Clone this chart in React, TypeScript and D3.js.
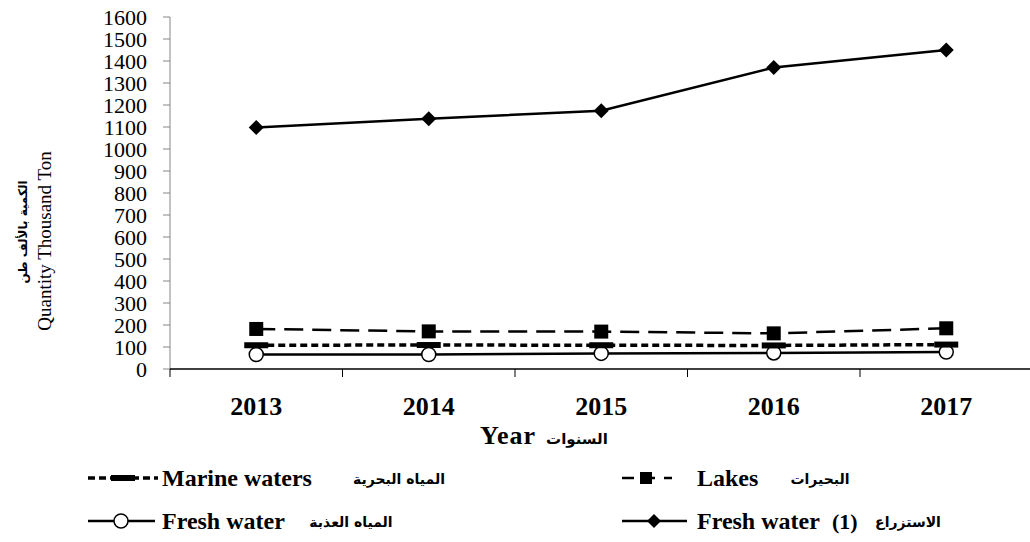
import { useEffect, useRef } from 'react';
import * as d3 from 'd3';

const years = ['2013', '2014', '2015', '2016', '2017'];
const aquaculture = [1098, 1137, 1174, 1370, 1450];
const lakes = [182, 171, 170, 162, 185];
const marine = [108, 109, 108, 107, 111];
const freshWater = [66, 66, 71, 73, 77];
const yTicks = [0, 100, 200, 300, 400, 500, 600, 700, 800, 900, 1000, 1100, 1200, 1300, 1400, 1500, 1600];

const SERIF = '"Liberation Serif", "Times New Roman", serif';
const ARABIC = '"DejaVu Sans", sans-serif';

const W = 1030;
const H = 542;

const App = () => {
  const svgRef = useRef<SVGSVGElement>(null);

  useEffect(() => {
    if (!svgRef.current) return;
    const svg = d3.select(svgRef.current);
    svg.selectAll('*').remove();

    const x = d3.scaleBand().domain(years).range([170, 1032.5]).padding(0);
    const y = d3.scaleLinear().domain([0, 1600]).range([369, 17]);
    const cx = (i: number) => (x(years[i]) || 0) + x.bandwidth() / 2;

    // y axis
    svg.append('line')
      .attr('x1', 170).attr('x2', 170)
      .attr('y1', y(1600)).attr('y2', y(0))
      .attr('stroke', '#868686').attr('stroke-width', 1);
    svg.selectAll('.ytick')
      .data(yTicks)
      .join('line')
      .attr('class', 'ytick')
      .attr('x1', 163).attr('x2', 170)
      .attr('y1', d => y(d)).attr('y2', d => y(d))
      .attr('stroke', '#868686').attr('stroke-width', 1);
    svg.selectAll('.ylabel')
      .data(yTicks)
      .join('text')
      .attr('class', 'ylabel')
      .attr('x', 147)
      .attr('y', d => y(d) + 7.5)
      .attr('text-anchor', 'end')
      .style('font-family', SERIF)
      .style('font-size', '22px')
      .style('fill', '#000')
      .text(d => d);

    // x axis
    svg.append('line')
      .attr('x1', 170).attr('x2', 1032.5)
      .attr('y1', y(0)).attr('y2', y(0))
      .attr('stroke', '#000').attr('stroke-width', 1.5);
    const tickXs = years.map(d => x(d) || 0).concat([x.range()[1]]);
    svg.selectAll('.xtick')
      .data(tickXs)
      .join('line')
      .attr('class', 'xtick')
      .attr('x1', d => d).attr('x2', d => d)
      .attr('y1', y(0)).attr('y2', y(0) + 8)
      .attr('stroke', '#000').attr('stroke-width', 1);
    svg.selectAll('.xlabel')
      .data(years)
      .join('text')
      .attr('class', 'xlabel')
      .attr('x', (d, i) => cx(i))
      .attr('y', 415)
      .attr('text-anchor', 'middle')
      .style('font-family', SERIF)
      .style('font-size', '26px')
      .style('font-weight', 'bold')
      .text(d => d);

    // axis titles
    svg.append('text')
      .attr('x', 480).attr('y', 444)
      .style('font-family', SERIF).style('font-size', '26px').style('font-weight', 'bold')
      .style('letter-spacing', '1px')
      .text('Year');
    svg.append('text')
      .attr('x', 577).attr('y', 444)
      .attr('text-anchor', 'middle')
      .style('font-family', ARABIC).style('font-size', '15px').style('font-weight', 'bold')
      .text('السنوات');

    svg.append('text')
      .attr('transform', 'translate(51,241) rotate(-90)')
      .attr('text-anchor', 'middle')
      .style('font-family', SERIF).style('font-size', '19px')
      .text('Quantity Thousand Ton');
    svg.append('text')
      .attr('transform', 'translate(27,232) rotate(-90)')
      .attr('text-anchor', 'middle')
      .style('font-family', ARABIC).style('font-size', '12px').style('font-weight', 'bold')
      .text('الكمية بالألف طن');

    const line = d3.line<number>()
      .x((d, i) => cx(i))
      .y(d => y(d));

    // Fresh water (capture)
    svg.append('path')
      .datum(freshWater)
      .attr('d', line)
      .attr('fill', 'none').attr('stroke', '#000').attr('stroke-width', 2.5);
    svg.selectAll('.fresh')
      .data(freshWater)
      .join('circle')
      .attr('class', 'fresh')
      .attr('cx', (d, i) => cx(i)).attr('cy', d => y(d))
      .attr('r', 7)
      .attr('fill', '#fff').attr('stroke', '#000').attr('stroke-width', 1.5);

    // Marine waters
    svg.append('path')
      .datum(marine)
      .attr('d', line)
      .attr('fill', 'none').attr('stroke', '#000').attr('stroke-width', 3.5)
      .attr('stroke-dasharray', '7,4');
    svg.selectAll('.marine')
      .data(marine)
      .join('rect')
      .attr('class', 'marine')
      .attr('x', (d, i) => cx(i) - 12).attr('y', d => y(d) - 3)
      .attr('width', 24).attr('height', 6)
      .attr('fill', '#000');

    // Lakes
    svg.append('path')
      .datum(lakes)
      .attr('d', line)
      .attr('fill', 'none').attr('stroke', '#000').attr('stroke-width', 2.5)
      .attr('stroke-dasharray', '19,9');
    svg.selectAll('.lakes')
      .data(lakes)
      .join('rect')
      .attr('class', 'lakes')
      .attr('x', (d, i) => cx(i) - 7).attr('y', d => y(d) - 7)
      .attr('width', 14).attr('height', 14)
      .attr('fill', '#000');

    // Aquaculture
    const diamond = (px: number, py: number, r: number) =>
      `M${px},${py - r}L${px + r},${py}L${px},${py + r}L${px - r},${py}Z`;
    svg.append('path')
      .datum(aquaculture)
      .attr('d', line)
      .attr('fill', 'none').attr('stroke', '#000').attr('stroke-width', 2.5);
    svg.selectAll('.aqua')
      .data(aquaculture)
      .join('path')
      .attr('class', 'aqua')
      .attr('d', (d, i) => diamond(cx(i), y(d), 7.5))
      .attr('fill', '#000');

    // Legend
    const row1 = 478;
    const row2 = 521;
    const legendText = (tx: number, ty: number, label: string) =>
      svg.append('text')
        .attr('x', tx).attr('y', ty + 8)
        .style('font-family', SERIF).style('font-size', '24px').style('font-weight', 'bold')
        .text(label);
    const arabicText = (tx: number, ty: number, label: string) =>
      svg.append('text')
        .attr('x', tx).attr('y', ty + 6)
        .attr('text-anchor', 'middle')
        .style('font-family', ARABIC).style('font-size', '14px').style('font-weight', 'bold')
        .text(label);

    // Marine legend
    svg.append('line')
      .attr('x1', 88).attr('x2', 158).attr('y1', row1).attr('y2', row1)
      .attr('stroke', '#000').attr('stroke-width', 3.5).attr('stroke-dasharray', '7,4');
    svg.append('rect')
      .attr('x', 111).attr('y', row1 - 3).attr('width', 24).attr('height', 6).attr('fill', '#000');
    legendText(162, row1, 'Marine waters');
    arabicText(399, row1, 'المياه البحرية');

    // Fresh water legend
    svg.append('line')
      .attr('x1', 88).attr('x2', 155).attr('y1', row2).attr('y2', row2)
      .attr('stroke', '#000').attr('stroke-width', 2.5);
    svg.append('circle')
      .attr('cx', 121).attr('cy', row2).attr('r', 7)
      .attr('fill', '#fff').attr('stroke', '#000').attr('stroke-width', 1.5);
    legendText(162, row2, 'Fresh water');
    arabicText(351, row2, 'المياه العذبة');

    // Lakes legend
    svg.append('line')
      .attr('x1', 622).attr('x2', 672).attr('y1', row1).attr('y2', row1)
      .attr('stroke', '#000').attr('stroke-width', 2.5).attr('stroke-dasharray', '12,9');
    svg.append('rect')
      .attr('x', 640).attr('y', row1 - 6).attr('width', 12).attr('height', 12).attr('fill', '#000');
    legendText(697, row1, 'Lakes');
    arabicText(820, row1, 'البحيرات');

    // Aquaculture legend
    svg.append('line')
      .attr('x1', 622).attr('x2', 687).attr('y1', row2).attr('y2', row2)
      .attr('stroke', '#000').attr('stroke-width', 2.5);
    svg.append('path')
      .attr('d', diamond(654, row2, 7))
      .attr('fill', '#000');
    legendText(697, row2, 'Fresh water');
    svg.append('text')
      .attr('x', 832).attr('y', row2 + 8)
      .style('font-family', SERIF).style('font-size', '22px').style('font-weight', 'bold')
      .text('(1)');
    arabicText(908, row2, 'الاستزراع');
  }, []);

  return (
    <svg
      ref={svgRef}
      width={W}
      height={H}
      style={{ position: 'absolute', left: 0, top: 0, background: '#fff' }}
    />
  );
};

export default App;
